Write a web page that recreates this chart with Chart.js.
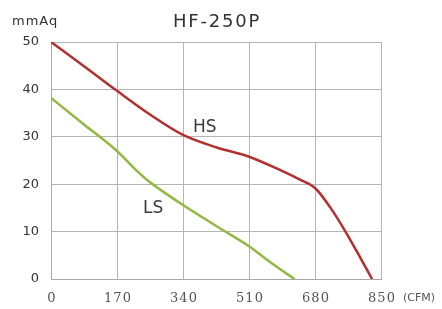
<!DOCTYPE html>
<html>
<head>
<meta charset="utf-8">
<script src="https://cdn.jsdelivr.net/npm/chart.js@4"></script>
<style>
  body { margin: 0; background: #fff; }
  #wrap { width: 442px; height: 309px; }
</style>
</head>
<body>
<div id="wrap"><canvas id="chart" width="442" height="309"></canvas></div>
<script>
// fan curve HF-250P, flow in CFM, static pressure in mmAq
const flowTicks = [0, 170, 340, 510, 680, 850];
const pressTicks = [0, 10, 20, 30, 40, 50];

const hsFlow = [0, 85, 170, 255, 340, 425, 510, 595, 640, 680, 720, 760, 800, 827];
const hsPress = [50, 44.9, 39.7, 34.7, 30.4, 27.8, 25.8, 22.8, 21, 19.2, 15, 9.8, 4, 0];

const lsFlow = [0, 85, 170, 215, 255, 300, 340, 437, 510, 564, 627];
const lsPress = [38.2, 32.6, 27, 23.3, 20.4, 17.8, 15.6, 10.6, 6.9, 3.6, 0];

function pts(xs, ys) {
  return xs.map(function (x, i) { return { x: x, y: ys[i] }; });
}

const labelsPlugin = {
  id: 'labels',
  afterDraw: function (chart) {
    const ctx = chart.ctx;
    const xs = chart.scales.x;
    ctx.save();
    ctx.textBaseline = 'alphabetic';

    // x tick labels, serif like the original
    ctx.fillStyle = '#555';
    ctx.font = '13px "DejaVu Serif"';
    ctx.letterSpacing = '1px';
    ctx.textAlign = 'center';
    flowTicks.forEach(function (v) {
      ctx.fillText(String(v), xs.getPixelForValue(v) + 1, 302);
    });

    ctx.letterSpacing = '0px';
    ctx.textAlign = 'left';
    ctx.font = '11px "DejaVu Sans"';
    ctx.fillText('(CFM)', 403, 301);

    ctx.fillStyle = '#333';
    ctx.font = '13px "DejaVu Sans"';
    ctx.letterSpacing = '1px';
    ctx.fillText('mmAq', 12, 25);

    ctx.font = '18px "DejaVu Sans"';
    ctx.letterSpacing = '1.8px';
    ctx.textAlign = 'center';
    ctx.fillText('HF-250P', 217, 27);

    ctx.letterSpacing = '0px';
    ctx.textAlign = 'left';
    ctx.font = '17px "DejaVu Sans"';
    ctx.fillStyle = '#3a3a3a';
    ctx.fillText('HS', 193, 132);
    ctx.fillText('LS', 143, 213);
    ctx.restore();
  }
};

new Chart(document.getElementById('chart'), {
  type: 'line',
  data: {
    datasets: [
      {
        label: 'HS',
        data: pts(hsFlow, hsPress),
        borderColor: '#b3302f',
        borderWidth: 2.5,
        pointRadius: 0,
        cubicInterpolationMode: 'monotone'
      },
      {
        label: 'LS',
        data: pts(lsFlow, lsPress),
        borderColor: '#93b843',
        borderWidth: 2.5,
        pointRadius: 0,
        cubicInterpolationMode: 'monotone'
      }
    ]
  },
  options: {
    responsive: false,
    animation: false,
    layout: { padding: { left: 0, top: 42, right: 61, bottom: 0 } },
    plugins: {
      legend: { display: false },
      tooltip: { enabled: false }
    },
    scales: {
      x: {
        type: 'linear',
        min: 0,
        max: 850,
        afterBuildTicks: function (scale) {
          scale.ticks = flowTicks.map(function (v) { return { value: v }; });
        },
        afterFit: function (scale) { scale.height = 30; },
        grid: { color: '#b4b4b4', lineWidth: 1, drawTicks: false },
        border: { color: '#a8a8a8', width: 1 },
        ticks: { display: false }
      },
      y: {
        min: 0,
        max: 50,
        afterBuildTicks: function (scale) {
          scale.ticks = pressTicks.map(function (v) { return { value: v }; });
        },
        afterFit: function (scale) { scale.width = 51; },
        grid: { color: '#b4b4b4', lineWidth: 1, drawTicks: false },
        border: { color: '#a8a8a8', width: 1 },
        ticks: {
          padding: 12,
          color: '#333',
          font: { family: '"DejaVu Sans"', size: 13 }
        }
      }
    }
  },
  plugins: [labelsPlugin]
});
</script>
</body>
</html>
